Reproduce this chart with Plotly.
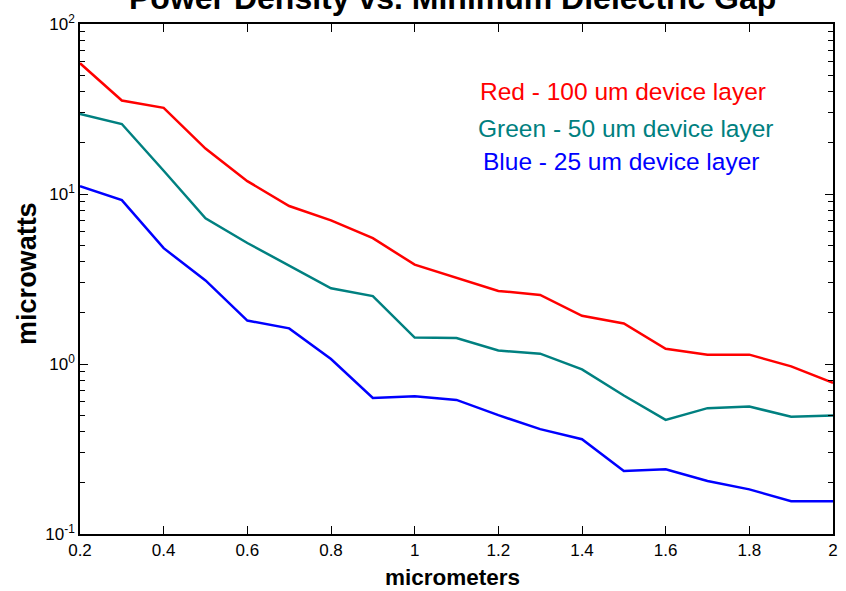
import plotly.graph_objects as go

x_um = [0.2, 0.3, 0.4, 0.5, 0.6, 0.7, 0.8, 0.9, 1.0, 1.1, 1.2, 1.3, 1.4, 1.5, 1.6, 1.7, 1.8, 1.9, 2.0]
red_100 = [58.8, 35.5, 32.1, 18.5, 11.9, 8.5, 7.0, 5.5, 3.84, 3.2, 2.69, 2.55, 1.92, 1.73, 1.23, 1.135, 1.135, 0.968, 0.774]
green_50 = [29.6, 25.8, 13.7, 7.2, 5.15, 3.8, 2.79, 2.51, 1.43, 1.42, 1.2, 1.15, 0.93, 0.653, 0.469, 0.55, 0.562, 0.49, 0.497]
blue_25 = [11.1, 9.2, 4.8, 3.1, 1.80, 1.62, 1.07, 0.632, 0.645, 0.615, 0.50, 0.414, 0.361, 0.235, 0.24, 0.205, 0.183, 0.156, 0.156]

x_ticks = [0.2, 0.4, 0.6, 0.8, 1.0, 1.2, 1.4, 1.6, 1.8, 2.0]
x_ticktext = ["0.2", "0.4", "0.6", "0.8", "1", "1.2", "1.4", "1.6", "1.8", "2"]
y_ticks = [0.1, 1, 10, 100]
y_ticktext = ["10<sup>-1</sup>", "10<sup>0</sup>", "10<sup>1</sup>", "10<sup>2</sup>"]
y_minor = [m * d for d in (0.1, 1, 10) for m in range(2, 10)]

legend_lines = ["Red - 100 um device layer", "Green - 50 um device layer", "Blue - 25 um device layer"]
colors = ["#FF0000", "#008080", "#0000FF"]

FONT = "Liberation Sans, Arial, sans-serif"

fig = go.Figure()
for ys, c in zip([red_100, green_50, blue_25], colors):
    fig.add_trace(go.Scatter(x=x_um, y=ys, mode="lines", line=dict(color=c, width=2.5), showlegend=False))

fig.update_layout(
    width=846, height=591,
    margin=dict(l=80, r=8, t=24, b=57),
    paper_bgcolor="white", plot_bgcolor="white",
    font=dict(family=FONT, color="black"),
    showlegend=False,
)
fig.update_xaxes(
    range=[0.2, 2.0], tickvals=x_ticks, ticktext=x_ticktext,
    ticks="inside", ticklen=8, tickwidth=1, tickcolor="black",
    showline=True, linecolor="black", linewidth=1.5, mirror="ticks",
    showgrid=False, zeroline=False, tickfont=dict(size=17, family=FONT),
)
fig.update_yaxes(
    type="log", range=[-1, 2], tickvals=y_ticks, ticktext=y_ticktext,
    ticks="inside", ticklen=8, tickwidth=1, tickcolor="black",
    minor=dict(tickvals=y_minor, ticks="inside", ticklen=5, tickcolor="black", tickwidth=1),
    showline=True, linecolor="black", linewidth=1.5, mirror="ticks",
    showgrid=False, zeroline=False, tickfont=dict(size=17, family=FONT),
)

# title (partly cut off at top)
fig.add_annotation(text="<b>Power Density vs. Minimum Dielectric Gap</b>", xref="paper", yref="paper",
                   x=0.495, y=1, xanchor="center", yanchor="bottom", yshift=6, showarrow=False,
                   font=dict(size=32, family=FONT, color="black"))
# axis titles
fig.add_annotation(text="<b>micrometers</b>", xref="paper", yref="paper", x=0.495, y=0, xanchor="center",
                   yanchor="top", yshift=-29, showarrow=False, font=dict(size=22.5, family=FONT, color="black"))
fig.add_annotation(text="<b>microwatts</b>", xref="paper", yref="paper", x=0, y=0.51, xanchor="center",
                   yanchor="middle", xshift=-53, textangle=-90, showarrow=False,
                   font=dict(size=27, family=FONT, color="black"))

# legend texts
leg_x = [0.528, 0.5256, 0.5322]
leg_y = [0.8667, 0.796, 0.731]
for t, c, lx, ly in zip(legend_lines, colors, leg_x, leg_y):
    fig.add_annotation(text=t, xref="paper", yref="paper", x=lx, y=ly, xanchor="left", yanchor="middle",
                       showarrow=False, font=dict(size=24.5, family=FONT, color=c))

fig.write_html("out.html")
